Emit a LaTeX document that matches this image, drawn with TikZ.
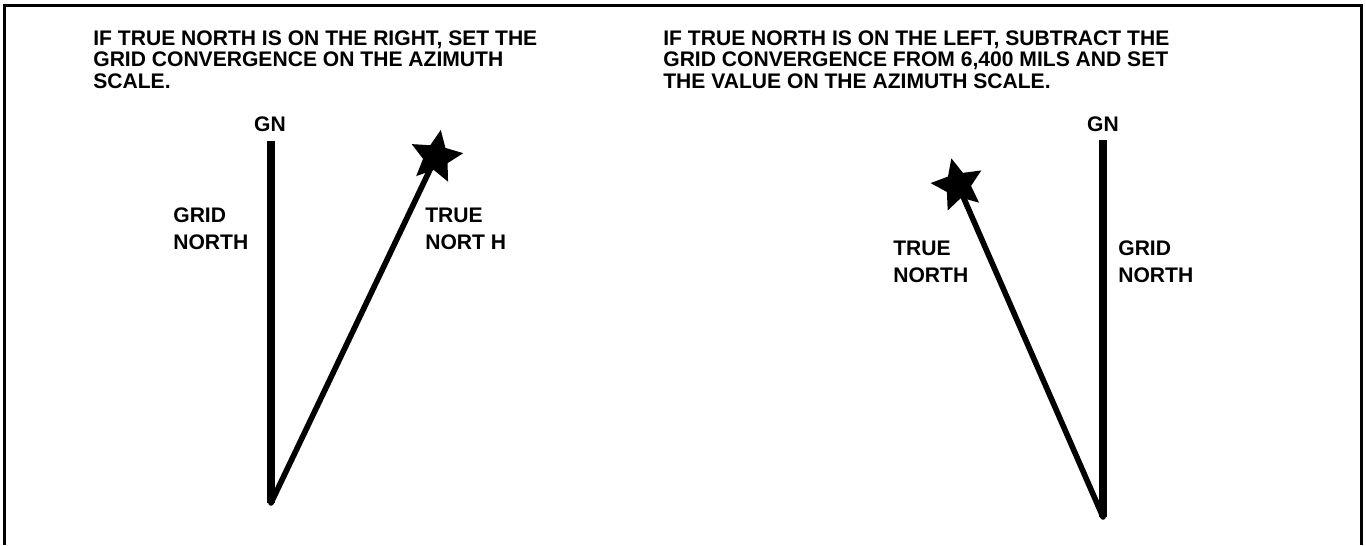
\documentclass[tikz,border=0pt]{standalone}
\usepackage{fontspec}
\setmainfont{Liberation Sans}
\usetikzlibrary{shapes.geometric}

\begin{document}
\begin{tikzpicture}[x=0.02cm, y=-0.02cm,
  heading/.style={anchor=north west, align=left, inner sep=0pt, font=\bfseries\fontsize{12}{12.3}\selectfont},
  label/.style={align=left, inner sep=0pt, font=\bfseries\fontsize{12}{15.5}\selectfont},
  northline/.style={line width=4pt},
  trueline/.style={line width=3.2pt, line cap=round},
  starmark/.style={star, star points=5, star point ratio=2.1, fill=black, inner sep=0pt, minimum size=1.1cm}]
\useasboundingbox (0,0) rectangle (1366,545);

% Frame
\draw[line width=1.7pt] (4.5,545) -- (4.5,5.5) -- (1361.5,5.5) -- (1361.5,545);

% Headings
\node[heading] (headL) at (93,30) {IF TRUE NORTH IS ON THE RIGHT, SET THE\\GRID CONVERGENCE ON THE AZIMUTH\\SCALE.};
\node[heading] (headR) at (663,30) {IF TRUE NORTH IS ON THE LEFT, SUBTRACT THE\\GRID CONVERGENCE FROM 6,400 MILS AND SET\\THE VALUE ON THE AZIMUTH SCALE.};

% Left case: true north to the right of grid north
\coordinate (topL) at (271,141);
\coordinate (baseL) at (271,503);
\node[label] (gnL) at (270,124) {GN};
\node[starmark, rotate=-10] (starL) at (436,157) {};
\draw[northline] (topL) -- (baseL);
\draw[trueline] (baseL) -- (starL.center);
\node[label, anchor=west] (gridL) at (173,229) {GRID\\NORTH};
\node[label, anchor=west] (trueL) at (425,229) {TRUE\\NORT H};

% Right case: true north to the left of grid north
\coordinate (topR) at (1103,140);
\coordinate (baseR) at (1103,517);
\node[label] (gnR) at (1103,124) {GN};
\node[starmark, rotate=14] (starR) at (958,185) {};
\draw[northline] (topR) -- (baseR);
\draw[trueline] (baseR) -- (starR.center);
\node[label, anchor=west] (trueR) at (893,262) {TRUE\\NORTH};
\node[label, anchor=west] (gridR) at (1118,262) {GRID\\NORTH};

\end{tikzpicture}
\end{document}
